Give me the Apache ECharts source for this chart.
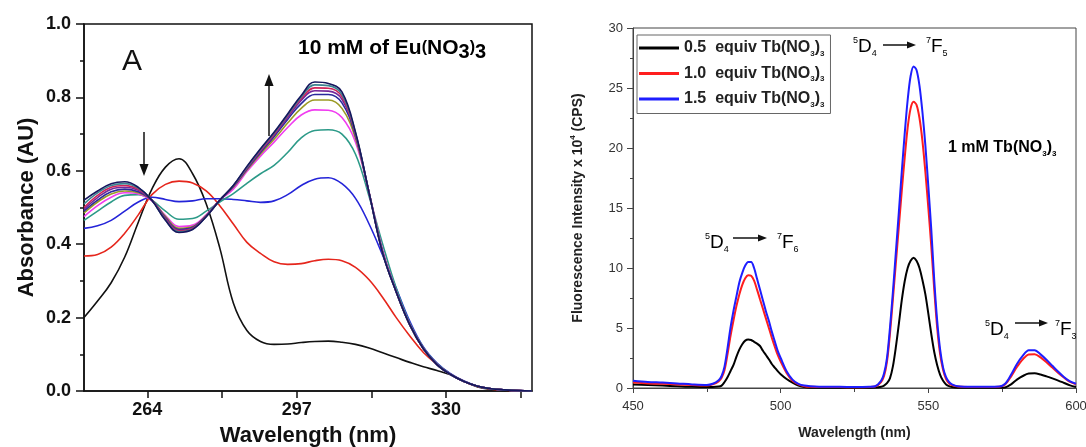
<!DOCTYPE html>
<html>
<head>
<meta charset="utf-8">
<script src="https://cdn.jsdelivr.net/npm/echarts@6/dist/echarts.min.js"></script>
<style>
  html, body { margin: 0; padding: 0; background: #fff; }
  #main { width: 1086px; height: 447px; }
</style>
</head>
<body>
<div id="main"></div>
<script>
// ---- panel A: absorbance titration (10 mM Eu(NO3)3) ----
var absWl = [250,253,256,259,262,265,268,271,274,277,280,283,286,289,292,295,298,301,304,307,310,313,316,319,322,325,328,331,334,337,340,343,346,349];

var absBlack   = [0.200,0.245,0.295,0.365,0.460,0.550,0.610,0.633,0.592,0.510,0.390,0.240,0.165,0.135,0.127,0.128,0.132,0.135,0.136,0.133,0.127,0.117,0.104,0.091,0.078,0.066,0.056,0.044,0.026,0.011,0.004,0.001,0,0];
var absRed     = [0.368,0.372,0.392,0.430,0.480,0.535,0.563,0.572,0.567,0.545,0.505,0.455,0.405,0.375,0.352,0.345,0.347,0.355,0.359,0.355,0.337,0.303,0.255,0.200,0.150,0.105,0.073,0.046,0.026,0.012,0.005,0.002,0.001,0];
var absBlue    = [0.443,0.450,0.465,0.490,0.515,0.528,0.522,0.516,0.518,0.524,0.524,0.522,0.518,0.514,0.518,0.535,0.560,0.577,0.581,0.565,0.525,0.455,0.370,0.280,0.190,0.120,0.076,0.047,0.027,0.013,0.006,0.003,0.001,0];
var absTeal    = [0.465,0.490,0.515,0.533,0.535,0.520,0.490,0.468,0.470,0.490,0.515,0.538,0.566,0.592,0.615,0.650,0.690,0.710,0.712,0.700,0.645,0.530,0.400,0.280,0.185,0.118,0.075,0.046,0.026,0.013,0.006,0.003,0.001,0];
var absMagenta = [0.475,0.505,0.528,0.540,0.537,0.518,0.478,0.448,0.452,0.480,0.520,0.550,0.598,0.640,0.678,0.718,0.752,0.766,0.765,0.745,0.678,0.540,0.385,0.272,0.182,0.116,0.073,0.045,0.026,0.013,0.006,0.003,0.001,0];
var absOlive   = [0.485,0.515,0.537,0.545,0.540,0.520,0.475,0.443,0.448,0.478,0.520,0.555,0.602,0.646,0.686,0.730,0.770,0.793,0.793,0.770,0.688,0.540,0.380,0.270,0.180,0.115,0.072,0.045,0.026,0.013,0.006,0.003,0.001,0];
var absNavy    = [0.490,0.520,0.543,0.550,0.543,0.520,0.472,0.440,0.446,0.477,0.520,0.557,0.605,0.650,0.693,0.740,0.783,0.808,0.808,0.785,0.695,0.540,0.378,0.270,0.180,0.115,0.072,0.045,0.026,0.013,0.006,0.003,0.001,0];
var absPurple  = [0.495,0.527,0.550,0.555,0.547,0.520,0.470,0.438,0.444,0.476,0.520,0.558,0.607,0.653,0.697,0.745,0.792,0.818,0.817,0.795,0.698,0.540,0.377,0.270,0.180,0.115,0.072,0.045,0.026,0.013,0.006,0.003,0.001,0];
var absCrimson = [0.500,0.533,0.555,0.560,0.550,0.520,0.468,0.436,0.443,0.476,0.520,0.559,0.609,0.656,0.700,0.750,0.797,0.826,0.825,0.802,0.700,0.540,0.376,0.270,0.180,0.115,0.072,0.045,0.026,0.013,0.006,0.003,0.001,0];
var absSlate   = [0.510,0.540,0.560,0.565,0.553,0.520,0.466,0.434,0.441,0.475,0.520,0.560,0.610,0.658,0.703,0.752,0.801,0.834,0.832,0.808,0.703,0.540,0.376,0.270,0.180,0.115,0.072,0.045,0.026,0.013,0.006,0.003,0.001,0];
var absDark    = [0.520,0.545,0.565,0.570,0.555,0.520,0.465,0.432,0.440,0.475,0.520,0.560,0.612,0.660,0.705,0.755,0.805,0.842,0.838,0.815,0.705,0.540,0.375,0.270,0.180,0.115,0.072,0.045,0.026,0.013,0.006,0.003,0.001,0];

var absTickVals  = [264,280.5,297,313.5,330,346.5];
var absLabelVals = [264,297,330];

// ---- panel B: Tb(NO3)3 fluorescence ----
var flWl = [450,455,460,465,470,475,477,479,480,481,482,483,484,485,486,487,488,489,490,491,492,493,494,495,496,497,498,499,500,502,504,506,508,510,515,520,525,530,532,534,535,536,537,538,539,540,541,542,543,544,545,546,547,548,549,550,551,552,553,554,555,556,557,558,560,565,570,574,576,578,580,582,584,586,588,590,592,594,596,598,600];

var fl05 = [0.30,0.25,0.20,0.15,0.10,0.08,0.08,0.12,0.20,0.50,0.90,1.40,1.90,2.60,3.20,3.65,3.95,4.05,4.00,3.85,3.70,3.50,3.10,2.75,2.40,2.00,1.70,1.40,1.15,0.75,0.45,0.20,0.08,0.03,0.02,0.02,0.02,0.03,0.04,0.10,0.20,0.40,0.80,1.80,3.40,5.30,7.30,8.90,10.0,10.6,10.85,10.6,10.0,9.0,7.8,6.2,4.5,3.0,1.9,1.1,0.60,0.30,0.15,0.08,0.03,0.02,0.02,0.02,0.05,0.30,0.70,1.00,1.20,1.22,1.12,0.97,0.80,0.62,0.42,0.22,0.08];
var fl10 = [0.45,0.38,0.35,0.30,0.25,0.20,0.30,0.55,0.85,1.50,2.80,4.30,5.60,6.80,7.80,8.60,9.15,9.40,9.35,8.95,8.20,7.40,6.60,5.80,5.00,4.20,3.45,2.75,2.20,1.25,0.60,0.30,0.15,0.10,0.08,0.08,0.06,0.08,0.12,0.50,1.00,2.20,4.50,7.40,10.4,13.4,16.4,19.2,21.7,23.3,23.85,23.6,22.5,20.6,18.0,15.0,11.8,8.2,5.0,2.8,1.5,0.75,0.40,0.25,0.12,0.08,0.08,0.10,0.30,0.95,1.75,2.40,2.80,2.82,2.55,2.15,1.70,1.25,0.85,0.50,0.30];
var fl15 = [0.60,0.50,0.45,0.38,0.30,0.25,0.35,0.65,1.00,1.80,3.30,5.00,6.40,7.60,8.80,9.60,10.2,10.5,10.5,10.0,9.10,8.20,7.30,6.40,5.60,4.70,3.90,3.10,2.50,1.40,0.70,0.35,0.20,0.15,0.10,0.10,0.08,0.10,0.15,0.60,1.20,2.50,5.00,8.00,11.3,14.6,18.0,21.2,24.0,26.0,26.8,26.5,25.2,23.0,20.2,16.8,13.2,9.0,5.6,3.2,1.7,0.90,0.50,0.30,0.15,0.10,0.10,0.12,0.35,1.10,2.00,2.70,3.15,3.15,2.80,2.35,1.85,1.35,0.90,0.55,0.35];

var flNames = ['0.5  equiv Tb(NO3)3','1.0  equiv Tb(NO3)3','1.5  equiv Tb(NO3)3'];

var FONT = 'Liberation Sans';

function pairs(xs, ys){
  var out = [];
  for(var i=0;i<xs.length;++i){
    out.push([xs[i], ys[i]]);
  }
  return out;
}

function absSeries(name, ys, color){
  return {
    name: name, type: 'line', xAxisIndex: 0, yAxisIndex: 0,
    smooth: 0.4, symbol: 'none', silent: true,
    lineStyle: { color: color, width: 1.6 },
    data: pairs(absWl, ys)
  };
}
function flSeries(name, ys, color){
  return {
    name: name, type: 'line', xAxisIndex: 1, yAxisIndex: 1,
    smooth: 0.3, symbol: 'none', silent: true,
    itemStyle: { color: color },
    lineStyle: { color: color, width: 2 },
    data: pairs(flWl, ys)
  };
}

// rich text for a transition label such as 5D4 -> 7F5
var transRich = {
  u: { fontFamily: FONT, fontSize: 9, color: '#111', verticalAlign: 'top', lineHeight: 22 },
  d: { fontFamily: FONT, fontSize: 19, color: '#111', lineHeight: 22 },
  l: { fontFamily: FONT, fontSize: 9, color: '#111', verticalAlign: 'bottom', lineHeight: 22 }
};
function transText(x, y, sup, letter, sub){
  return {
    type: 'text', x: x, y: y, silent: true,
    style: { text: '{u|'+sup+'}{d|'+letter+'}{l|'+sub+'}', rich: transRich, verticalAlign: 'middle' }
  };
}
function arrow(x1, y1, x2, y2, head){
  var dx = x2 - x1, dy = y2 - y1;
  var len = Math.sqrt(dx*dx + dy*dy);
  var ux = dx/len, uy = dy/len;
  var bx = x2 - ux*head, by = y2 - uy*head;
  var w = head*0.38;
  return [
    { type: 'line', silent: true, shape: { x1: x1, y1: y1, x2: bx, y2: by }, style: { stroke: '#111', lineWidth: 1.5 } },
    { type: 'polygon', silent: true, shape: { points: [[x2, y2], [bx - uy*w, by + ux*w], [bx + uy*w, by - ux*w]] }, style: { fill: '#111' } }
  ];
}

var chart = echarts.init(document.getElementById('main'));

var graphics = [
  { type: 'text', x: 122, y: 62, silent: true,
    style: { text: 'A', font: 'normal 30px ' + FONT, fill: '#111', verticalAlign: 'middle' } },
  { type: 'text', x: 298, y: 48, silent: true,
    style: {
      text: '{b|10 mM of Eu}{p|(}{b|NO}{s|3}{p|)}{s|3}',
      verticalAlign: 'middle',
      rich: {
        b: { fontFamily: FONT, fontWeight: 'bold', fontSize: 21, color: '#111', lineHeight: 28 },
        p: { fontFamily: FONT, fontWeight: 'bold', fontSize: 16, color: '#111', lineHeight: 28 },
        s: { fontFamily: FONT, fontWeight: 'bold', fontSize: 20, color: '#111', verticalAlign: 'bottom', lineHeight: 18 }
      }
    } },
  { type: 'text', x: 948, y: 148, silent: true,
    style: {
      text: '{b|1 mM Tb(NO}{s|3}{b|)}{s|3}',
      verticalAlign: 'middle',
      rich: {
        b: { fontFamily: FONT, fontWeight: 'bold', fontSize: 16, color: '#111', lineHeight: 20 },
        s: { fontFamily: FONT, fontWeight: 'bold', fontSize: 8, color: '#111', verticalAlign: 'bottom', lineHeight: 8 }
      }
    } },
  transText(853, 47, '5', 'D', '4'),
  transText(926, 47, '7', 'F', '5'),
  transText(705, 243, '5', 'D', '4'),
  transText(777, 243, '7', 'F', '6'),
  transText(985, 330, '5', 'D', '4'),
  transText(1055, 330, '7', 'F', '3')
];
graphics = graphics
  .concat(arrow(144, 132, 144, 176, 12))
  .concat(arrow(269, 136, 269, 74, 12))
  .concat(arrow(883, 45, 916, 45, 9))
  .concat(arrow(733, 238, 767, 238, 9))
  .concat(arrow(1015, 323, 1048, 323, 9));

var option = {
  backgroundColor: '#fff',
  animation: false,
  grid: [
    { left: 84, top: 24, width: 448, height: 367, outerBoundsMode: 'none', show: true, borderColor: '#111', borderWidth: 1.5, backgroundColor: 'transparent' },
    { left: 633, top: 28, width: 443, height: 360, outerBoundsMode: 'none', show: true, borderColor: '#444', borderWidth: 1, backgroundColor: 'transparent' }
  ],
  legend: {
    data: flNames,
    orient: 'vertical',
    left: 637, top: 35,
    padding: [5, 6, 5, 2],
    itemGap: 8,
    itemWidth: 40, itemHeight: 3,
    icon: 'rect',
    borderColor: '#666', borderWidth: 1,
    selectedMode: false,
    textStyle: {
      fontFamily: FONT, fontWeight: 'bold', fontSize: 16, color: '#222',
      rich: {
        t: { fontFamily: FONT, fontWeight: 'bold', fontSize: 16, color: '#222', lineHeight: 19 },
        s: { fontFamily: FONT, fontWeight: 'bold', fontSize: 8, color: '#222', verticalAlign: 'bottom', lineHeight: 8 }
      }
    },
    formatter: function(name){
      var head = name.replace('NO3)3', 'NO');
      return '{t|' + head + '}{s|3}{t|)}{s|3}';
    }
  },
  xAxis: [
    {
      gridIndex: 0, type: 'value', min: 250, max: 349,
      name: 'Wavelength (nm)', nameLocation: 'middle', nameGap: 34,
      nameTextStyle: { fontFamily: FONT, fontWeight: 'bold', fontSize: 22, color: '#111' },
      axisLine: { onZero: false, lineStyle: { color: '#111', width: 1.5 } },
      axisTick: { customValues: absTickVals, length: 7, lineStyle: { color: '#111', width: 1.5 } },
      axisLabel: { customValues: absLabelVals, fontFamily: FONT, fontWeight: 'bold', fontSize: 18, color: '#111', margin: 10 },
      splitLine: { show: false }
    },
    {
      gridIndex: 1, type: 'value', min: 450, max: 600, interval: 50,
      name: 'Wavelength (nm)', nameLocation: 'middle', nameGap: 38,
      nameTextStyle: { fontFamily: FONT, fontWeight: 'bold', fontSize: 14, color: '#222' },
      axisLine: { onZero: false, lineStyle: { color: '#444', width: 1 } },
      axisTick: { length: 5, lineStyle: { color: '#444' } },
      minorTick: { show: true, splitNumber: 2, length: 4, lineStyle: { color: '#444' } },
      axisLabel: { fontFamily: FONT, fontSize: 13, color: '#333', margin: 12 },
      splitLine: { show: false }
    }
  ],
  yAxis: [
    {
      gridIndex: 0, type: 'value', min: 0, max: 1, interval: 0.2,
      name: 'Absorbance (AU)', nameLocation: 'middle', nameGap: 46,
      nameTextStyle: { fontFamily: FONT, fontWeight: 'bold', fontSize: 22, color: '#111' },
      axisLine: { onZero: false, lineStyle: { color: '#111', width: 1.5 } },
      axisTick: { length: 8, lineStyle: { color: '#111', width: 1.5 } },
      minorTick: { show: true, splitNumber: 2, length: 4, lineStyle: { color: '#111', width: 1.5 } },
      axisLabel: { fontFamily: FONT, fontWeight: 'bold', fontSize: 18, color: '#111', margin: 13,
        formatter: function(v){ return v.toFixed(1); } },
      splitLine: { show: false }
    },
    {
      gridIndex: 1, type: 'value', min: 0, max: 30, interval: 5,
      name: '{a|Fluorescence Intensity x 10}{s|4}{a| (CPS)}', nameLocation: 'middle', nameGap: 46,
      nameTextStyle: {
        rich: {
          a: { fontFamily: FONT, fontWeight: 'bold', fontSize: 14, color: '#222', lineHeight: 18 },
          s: { fontFamily: FONT, fontWeight: 'bold', fontSize: 8, color: '#222', verticalAlign: 'top', lineHeight: 18 }
        }
      },
      axisLine: { onZero: false, lineStyle: { color: '#444', width: 1 } },
      axisTick: { length: 6, lineStyle: { color: '#444' } },
      minorTick: { show: true, splitNumber: 2, length: 3, lineStyle: { color: '#444' } },
      axisLabel: { fontFamily: FONT, fontSize: 13, color: '#333', margin: 10 },
      splitLine: { show: false }
    }
  ],
  series: [
    absSeries('eq0', absBlack, '#111111'),
    absSeries('eq1', absRed, '#e5261c'),
    absSeries('eq2', absBlue, '#2424d8'),
    absSeries('eq3', absTeal, '#2c9a88'),
    absSeries('eq4', absMagenta, '#f03cf0'),
    absSeries('eq5', absOlive, '#9a9a24'),
    absSeries('eq6', absNavy, '#2a2a9c'),
    absSeries('eq7', absPurple, '#74289a'),
    absSeries('eq8', absCrimson, '#d0245a'),
    absSeries('eq9', absSlate, '#3c8290'),
    absSeries('eq10', absDark, '#16165e'),
    flSeries(flNames[0], fl05, '#000000'),
    flSeries(flNames[1], fl10, '#ff1e1e'),
    flSeries(flNames[2], fl15, '#1e1eff')
  ],
  graphic: graphics
};

chart.setOption(option);
</script>
</body>
</html>
